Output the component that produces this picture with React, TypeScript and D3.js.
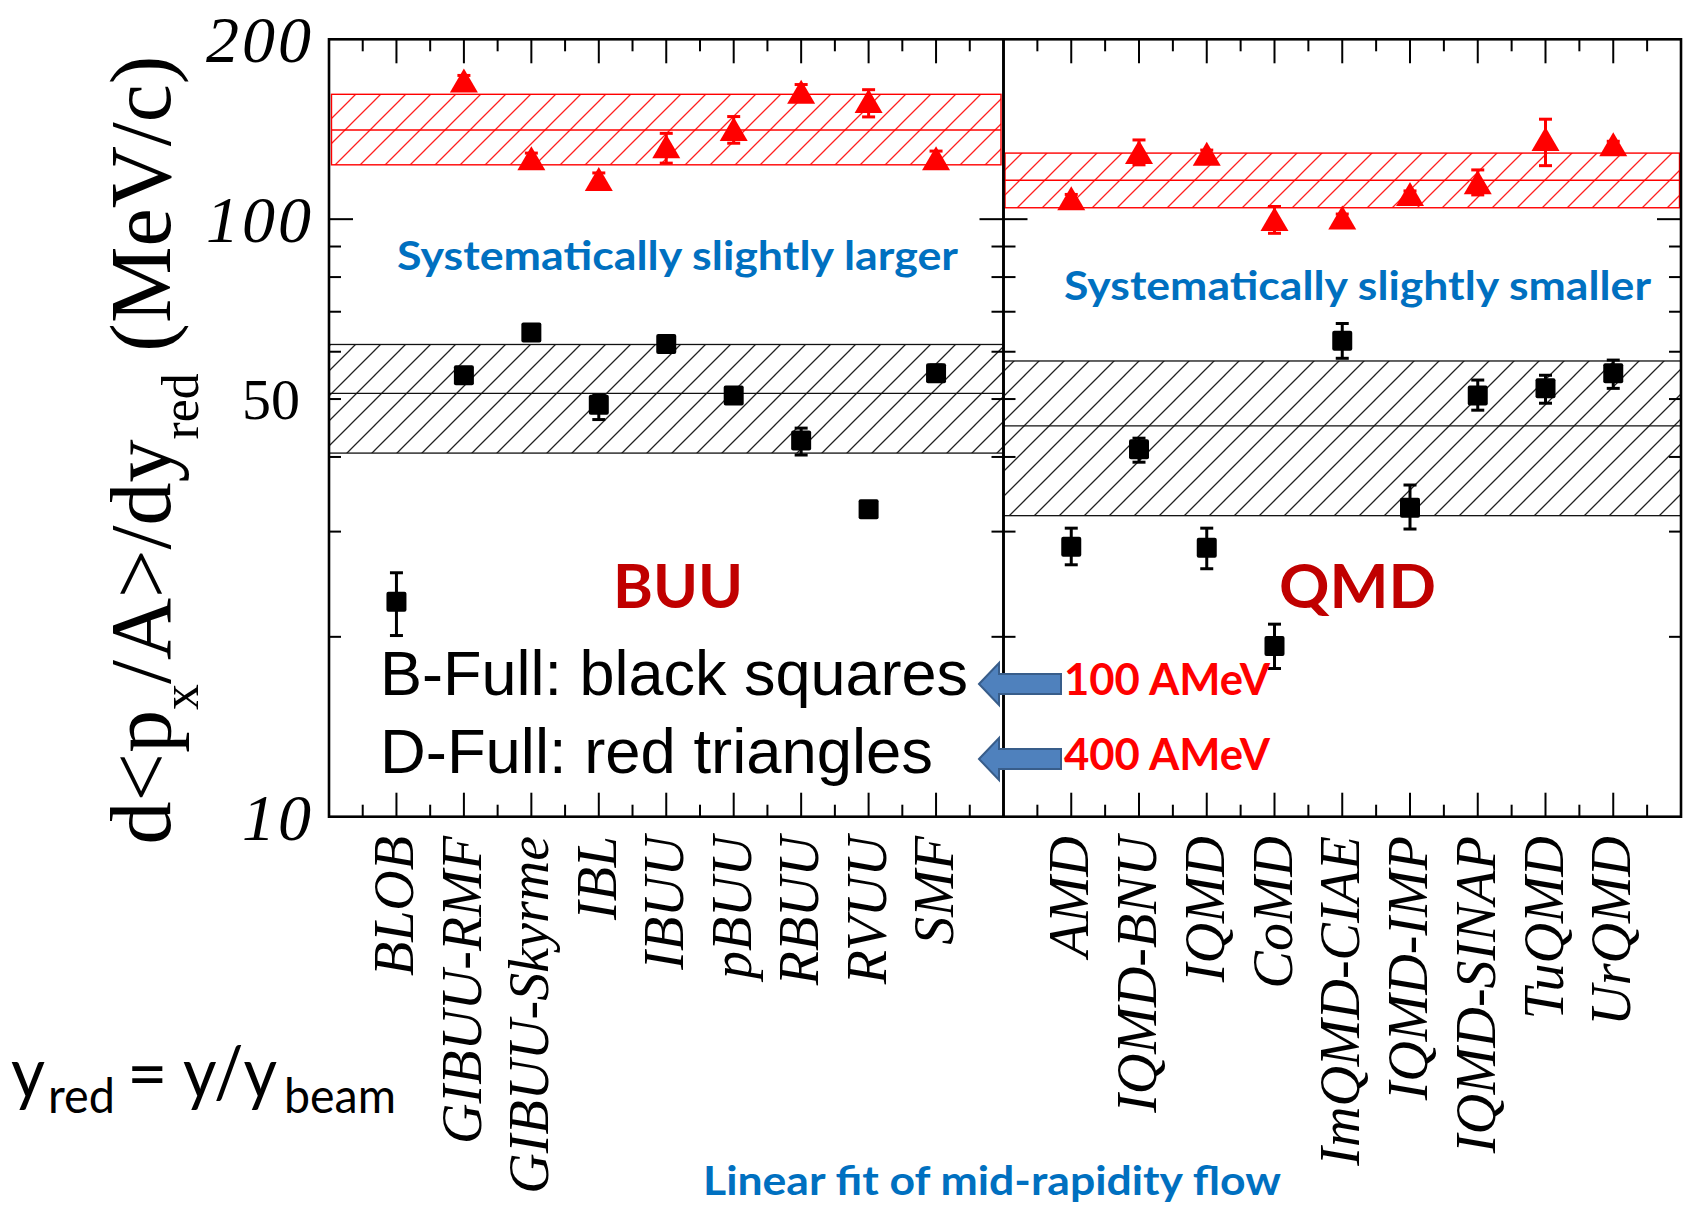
import React from "react";
import * as d3 from "d3";

// ---- data ----
const buuModels = ["BLOB", "GIBUU-RMF", "GIBUU-Skyrme", "IBL", "IBUU", "pBUU", "RBUU", "RVUU", "SMF"];
const qmdModels = ["AMD", "IQMD-BNU", "IQMD", "CoMD", "ImQMD-CIAE", "IQMD-IMP", "IQMD-SINAP", "TuQMD", "UrQMD"];

// B-Full (100 AMeV), black squares
const buuSquares = [22.9, 54.8, 64.6, 48.9, 61.8, 50.7, 42.6, 32.7, 55.2];
const buuSquaresErr: [number, number][] = [
  [20.1, 25.6], [53.6, 56.0], [63.2, 66.0], [46.2, 50.8], [60.6, 63.0],
  [49.7, 51.7], [40.3, 44.7], [32.2, 33.2], [53.6, 57.0],
];
const qmdSquares = [28.3, 41.2, 28.2, 19.3, 62.6, 32.9, 50.7, 52.1, 55.2];
const qmdSquaresErr: [number, number][] = [
  [26.4, 30.4], [39.2, 43.0], [26.0, 30.4], [17.7, 21.0], [58.5, 66.9],
  [30.3, 35.9], [47.9, 53.8], [49.2, 54.8], [52.1, 58.1],
];

// D-Full (400 AMeV), red triangles (BLOB has none)
const buuTriangles = [null, 170, 126, 116.3, 132, 141, 162.8, 157, 126];
const buuTrianglesErr: ([number, number] | null)[] = [
  null, [166, 174], [123, 129], [113, 119.5], [124.1, 139.2],
  [134, 148.5], [158, 168], [148.3, 164.7], [122, 130],
];
const qmdTriangles = [108, 129, 128.2, 99.7, 100.3, 109.8, 114.8, 135.7, 133];
const qmdTrianglesErr: ([number, number] | null)[] = [
  [106, 110], [123.3, 135.7], [126, 130.5], [94.7, 105], [98.5, 102],
  [108, 111.5], [109.8, 120.9], [122.9, 147], [131, 135],
];

// linear-fit bands: [low, central, high]
const buuRedBand = [123.3, 141, 161.8];
const buuBlackBand = [40.6, 51.1, 61.7];
const qmdRedBand = [104.5, 116.2, 129];
const qmdBlackBand = [31.9, 45.1, 57.9];

const yMajorTicks = [100];
const yMinorTicks = [20, 30, 40, 50, 60, 70, 80, 90];
const yTickLabels = [
  { v: 200, text: "200", italic: true },
  { v: 100, text: "100", italic: true },
  { v: 50, text: "50", italic: false },
  { v: 10, text: "10", italic: true },
];

// ---- layout ----
const W = 1691;
const H = 1218;
const TOP = 39.3;
const BOTTOM = 816.7;
const X0 = 329;
const XMID = 1003.5;
const X1 = 1681;

const SERIF = "'Liberation Serif', 'Times New Roman', serif";
const SANS = "Lato, 'Open Sans', sans-serif";
const ARIAL = "'Liberation Sans', Arial, sans-serif";
const BLUE = "#0070c0";

const yScale = d3.scaleLog().domain([10, 200]).range([BOTTOM, TOP]);

function Panel(props: {
  x: d3.ScaleLinear<number, number>;
  squares: number[];
  squaresErr: [number, number][];
  triangles: (number | null)[];
  trianglesErr: ([number, number] | null)[];
  redBand: number[];
  blackBand: number[];
  redInset: number;
}) {
  const { x } = props;
  const [xa, xb] = x.range();
  const idx = d3.range(1, 10);
  const halfIdx = d3.range(0.5, 10, 1);

  const errBar = (cx: number, lo: number, hi: number, color: string, key: string) => (
    <g key={key} stroke={color} strokeWidth={3}>
      <line x1={cx} x2={cx} y1={yScale(lo)} y2={yScale(hi)} />
      <line x1={cx - 6.5} x2={cx + 6.5} y1={yScale(lo)} y2={yScale(lo)} />
      <line x1={cx - 6.5} x2={cx + 6.5} y1={yScale(hi)} y2={yScale(hi)} />
    </g>
  );

  return (
    <g>
      {/* black band */}
      <rect
        x={xa}
        width={xb - xa}
        y={yScale(props.blackBand[2])}
        height={yScale(props.blackBand[0]) - yScale(props.blackBand[2])}
        fill="url(#hatchBlack)"
        stroke="#111"
        strokeWidth={1.3}
      />
      <line x1={xa} x2={xb} y1={yScale(props.blackBand[1])} y2={yScale(props.blackBand[1])} stroke="#111" strokeWidth={1.3} />
      {/* red band */}
      <rect
        x={xa + props.redInset}
        width={xb - xa - 2 * props.redInset}
        y={yScale(props.redBand[2])}
        height={yScale(props.redBand[0]) - yScale(props.redBand[2])}
        fill="url(#hatchRed)"
        stroke="#ff0000"
        strokeWidth={1.4}
      />
      <line
        x1={xa + props.redInset}
        x2={xb - props.redInset}
        y1={yScale(props.redBand[1])}
        y2={yScale(props.redBand[1])}
        stroke="#ff0000"
        strokeWidth={1.4}
      />

      {/* ticks */}
      <g stroke="#000" strokeWidth={2}>
        {idx.map((i) => (
          <g key={`xt${i}`}>
            <line x1={x(i)} x2={x(i)} y1={TOP} y2={TOP + 24} />
            <line x1={x(i)} x2={x(i)} y1={BOTTOM} y2={BOTTOM - 24} />
          </g>
        ))}
        {halfIdx.map((i) => (
          <g key={`xm${i}`}>
            <line x1={x(i)} x2={x(i)} y1={TOP} y2={TOP + 12} />
            <line x1={x(i)} x2={x(i)} y1={BOTTOM} y2={BOTTOM - 12} />
          </g>
        ))}
        {yMajorTicks.map((v) => (
          <g key={`yt${v}`}>
            <line x1={xa} x2={xa + 24} y1={yScale(v)} y2={yScale(v)} />
            <line x1={xb} x2={xb - 24} y1={yScale(v)} y2={yScale(v)} />
          </g>
        ))}
        {yMinorTicks.map((v) => (
          <g key={`ym${v}`}>
            <line x1={xa} x2={xa + 12} y1={yScale(v)} y2={yScale(v)} />
            <line x1={xb} x2={xb - 12} y1={yScale(v)} y2={yScale(v)} />
          </g>
        ))}
      </g>

      {/* red triangles */}
      {props.triangles.map((v, i) => {
        if (v == null) return null;
        const cx = x(i + 1);
        const cy = yScale(v);
        const e = props.trianglesErr[i];
        return (
          <g key={`tri${i}`}>
            {e && errBar(cx, e[0], e[1], "#ff0000", `te${i}`)}
            <path d={`M${cx},${cy - 13}L${cx + 14},${cy + 11}L${cx - 14},${cy + 11}Z`} fill="#ff0000" />
          </g>
        );
      })}

      {/* black squares */}
      {props.squares.map((v, i) => {
        const cx = x(i + 1);
        const cy = yScale(v);
        const e = props.squaresErr[i];
        return (
          <g key={`sq${i}`}>
            {errBar(cx, e[0], e[1], "#000", `se${i}`)}
            <rect x={cx - 10} y={cy - 10} width={20} height={20} rx={2} fill="#000" />
          </g>
        );
      })}

      {/* frame */}
      <rect x={xa} y={TOP} width={xb - xa} height={BOTTOM - TOP} fill="none" stroke="#000" strokeWidth={2.6} />
    </g>
  );
}

function CategoryLabels(props: { x: d3.ScaleLinear<number, number>; models: string[] }) {
  return (
    <g fontFamily={SERIF} fontStyle="italic" fontSize={56} fill="#000">
      {props.models.map((m, i) => (
        <text key={m} transform={`translate(${props.x(i + 1) + 17},836) rotate(-90)`} textAnchor="end">
          {m}
        </text>
      ))}
    </g>
  );
}

function Arrow(props: { tipX: number; cy: number }) {
  const { tipX, cy } = props;
  const headX = tipX + 20;
  const endX = tipX + 82;
  const pts = [
    [tipX, cy],
    [headX, cy - 21],
    [headX, cy - 10],
    [endX, cy - 10],
    [endX, cy + 10],
    [headX, cy + 10],
    [headX, cy + 21],
  ];
  return <polygon points={pts.map((p) => p.join(",")).join(" ")} fill="#4f81bd" stroke="#385d8a" strokeWidth={2} />;
}

export default function App() {
  const xLeft = d3.scaleLinear().domain([0, 10]).range([X0, XMID]);
  const xRight = d3.scaleLinear().domain([0, 10]).range([XMID, X1]);

  return (
    <svg width={W} height={H} style={{ position: "absolute", left: 0, top: 0, background: "#fff" }}>
      <defs>
        <pattern id="hatchBlack" patternUnits="userSpaceOnUse" width={25} height={25}>
          <path d="M0,25L25,0M-5,5L5,-5M20,30L30,20" stroke="#222" strokeWidth={1.3} />
        </pattern>
        <pattern id="hatchRed" patternUnits="userSpaceOnUse" width={25} height={25}>
          <path d="M0,25L25,0M-5,5L5,-5M20,30L30,20" stroke="#ff2020" strokeWidth={1.3} />
        </pattern>
      </defs>
      <rect width={W} height={H} fill="#fff" />

      <Panel
        x={xLeft}
        squares={buuSquares}
        squaresErr={buuSquaresErr}
        triangles={buuTriangles}
        trianglesErr={buuTrianglesErr}
        redBand={buuRedBand}
        blackBand={buuBlackBand}
        redInset={2.5}
      />
      <Panel
        x={xRight}
        squares={qmdSquares}
        squaresErr={qmdSquaresErr}
        triangles={qmdTriangles}
        trianglesErr={qmdTrianglesErr}
        redBand={qmdRedBand}
        blackBand={qmdBlackBand}
        redInset={1.5}
      />

      {/* y tick labels */}
      {yTickLabels.map((t) => (
        <text
          key={t.text}
          x={t.italic ? 314 : 300}
          y={yScale(t.v)}
          dy="0.35em"
          textAnchor="end"
          fontFamily={SERIF}
          fontStyle={t.italic ? "italic" : "normal"}
          fontSize={t.italic ? 66 : 58}
          letterSpacing={t.italic ? 3 : 0}
        >
          {t.text}
        </text>
      ))}

      {/* y axis title */}
      <text transform="translate(170,450) rotate(-90)" textAnchor="middle" fontFamily={SERIF} fontSize={86}>
        d&lt;p
        <tspan fontSize={52} dy={28}>x</tspan>
        <tspan dy={-28}>/A&gt;/dy</tspan>
        <tspan fontSize={52} dy={28}>red</tspan>
        <tspan dy={-28}> (MeV/c)</tspan>
      </text>

      <CategoryLabels x={xLeft} models={buuModels} />
      <CategoryLabels x={xRight} models={qmdModels} />

      {/* annotations */}
      <g fontFamily={SANS} fontWeight="bold">
        <text x={397} y={270} fontSize={40} fill={BLUE} textLength={561} lengthAdjust="spacingAndGlyphs">
          Systematically slightly larger
        </text>
        <text x={1064} y={300} fontSize={40} fill={BLUE} textLength={587} lengthAdjust="spacingAndGlyphs">
          Systematically slightly smaller
        </text>
        <text x={613} y={608} fontSize={62} fill="#c00000" textLength={130} lengthAdjust="spacingAndGlyphs">
          BUU
        </text>
        <text x={1279} y={608} fontSize={62} fill="#c00000" textLength={157} lengthAdjust="spacingAndGlyphs">
          QMD
        </text>
        <text x={1064} y={695} fontSize={43} fill="#ff0000" textLength={206} lengthAdjust="spacingAndGlyphs">
          100 AMeV
        </text>
        <text x={1064} y={770} fontSize={43} fill="#ff0000" textLength={206} lengthAdjust="spacingAndGlyphs">
          400 AMeV
        </text>
        <text x={703} y={1195} fontSize={40} fill={BLUE} textLength={578} lengthAdjust="spacingAndGlyphs">
          Linear fit of mid-rapidity flow
        </text>
      </g>

      <g fontFamily={ARIAL} fontSize={63} fill="#000">
        <text x={380} y={695} textLength={588} lengthAdjust="spacingAndGlyphs">B-Full: black squares</text>
        <text x={380} y={773} textLength={553} lengthAdjust="spacingAndGlyphs">D-Full: red triangles</text>
      </g>

      <Arrow tipX={979} cy={684} />
      <Arrow tipX={979} cy={759} />

      {/* y_red = y / y_beam */}
      <g fontFamily={SANS} fill="#000">
        <text x={11} y={1098} fontSize={72} textLength={34} lengthAdjust="spacingAndGlyphs">y</text>
        <text x={48} y={1113} fontSize={48} textLength={67} lengthAdjust="spacingAndGlyphs">red</text>
        <text x={127} y={1098} fontSize={70}>=</text>
        <text x={183} y={1098} fontSize={72} textLength={94} lengthAdjust="spacingAndGlyphs">y/y</text>
        <text x={284} y={1113} fontSize={48} textLength={112} lengthAdjust="spacingAndGlyphs">beam</text>
      </g>
    </svg>
  );
}
